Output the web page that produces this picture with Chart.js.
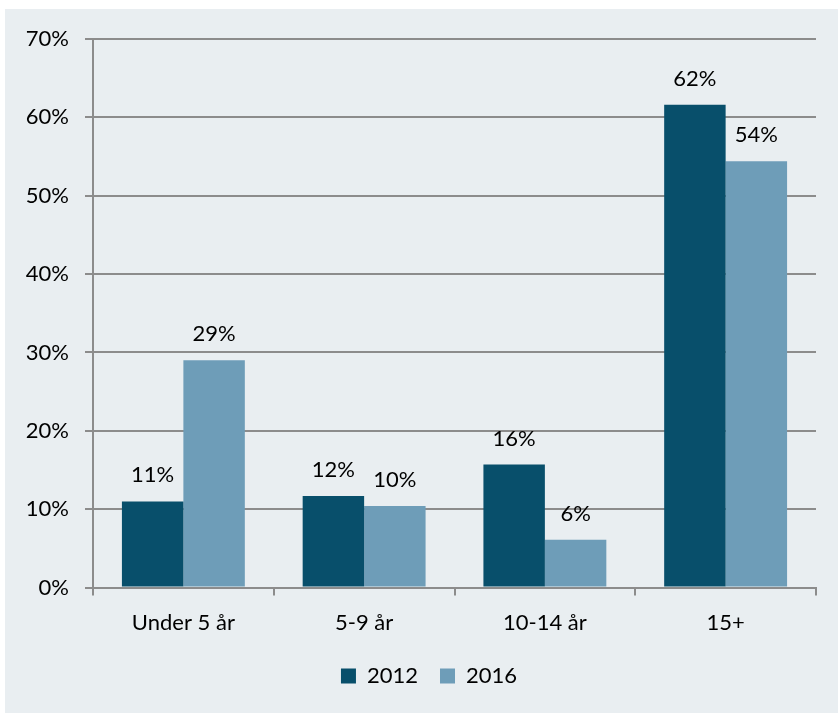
<!DOCTYPE html>
<html lang="sv">
<head>
    <meta charset="UTF-8">
    <title>Andel per ålder</title>
    <script src="https://cdn.jsdelivr.net/npm/chart.js"></script>
    <style>
        body {
            margin: 0;
            background: #ffffff;
        }
        #chartBox {
            position: absolute;
            left: 5px;
            top: 9px;
            width: 833px;
            height: 704px;
            background-color: #e9eef1;
        }
    </style>
</head>
<body>
    <div id="chartBox">
        <canvas id="ageChart" width="833" height="704"></canvas>
    </div>
    <script>
        const categories = ['Under 5 år', '5-9 år', '10-14 år', '15+'];
        const values2012 = [11.0, 11.7, 15.7, 61.6];
        const values2016 = [29.0, 10.4, 6.1, 54.4];
        const yTicks = [0, 10, 20, 30, 40, 50, 60, 70];

        const fontName = 'Lato';
        const fontSize = 22;
        const gridGray = '#8c8c8c';
        const textColor = '#000000';

        // etiketter ovanför staplarna
        const barLabels = {
            id: 'barLabels',
            afterDatasetsDraw(chart) {
                const ctx = chart.ctx;
                ctx.save();
                ctx.font = fontSize + 'px ' + fontName;
                ctx.fillStyle = textColor;
                ctx.textAlign = 'center';
                ctx.textBaseline = 'middle';
                chart.data.datasets.forEach((ds, i) => {
                    chart.getDatasetMeta(i).data.forEach((bar, j) => {
                        ctx.fillText(Math.round(ds.data[j]) + '%', bar.x, bar.y - 26);
                    });
                });
                ctx.restore();
            }
        };

        // förklaringen står lite till höger om mitten
        const legendShift = {
            id: 'legendShift',
            afterLayout(chart) {
                if (chart.legend) chart.legend.left += 37;
            }
        };

        const ctx = document.getElementById('ageChart').getContext('2d');
        const ageChart = new Chart(ctx, {
            type: 'bar',
            data: {
                labels: categories,
                datasets: [{
                    label: '2012',
                    data: values2012,
                    backgroundColor: '#084f6b',
                    categoryPercentage: 0.68,
                    barPercentage: 1.0
                },
                {
                    label: '2016',
                    data: values2016,
                    backgroundColor: '#6e9db8',
                    categoryPercentage: 0.68,
                    barPercentage: 1.0
                }]
            },
            options: {
                responsive: false,
                animation: false,
                layout: {
                    padding: { left: 0, right: 22, top: 30, bottom: 16 }
                },
                plugins: {
                    tooltip: { enabled: false },
                    legend: {
                        position: 'bottom',
                        labels: {
                            color: textColor,
                            font: { family: fontName, size: fontSize },
                            boxWidth: 15,
                            boxHeight: 15,
                            padding: 22
                        }
                    }
                },
                scales: {
                    x: {
                        offset: true,
                        afterFit(scale) { scale.height = scale.height - 7; },
                        grid: {
                            offset: true,
                            drawOnChartArea: false,
                            drawTicks: true,
                            tickLength: 8,
                            color: gridGray,
                            lineWidth: 2
                        },
                        border: { color: gridGray, width: 2 },
                        ticks: {
                            color: textColor,
                            font: { family: fontName, size: fontSize },
                            padding: 14
                        }
                    },
                    y: {
                        min: yTicks[0],
                        max: yTicks[yTicks.length - 1],
                        afterFit(scale) { scale.width = 88; },
                        afterBuildTicks(scale) {
                            scale.ticks = yTicks.map(v => ({ value: v }));
                        },
                        grid: {
                            color: gridGray,
                            lineWidth: 2,
                            tickLength: 8
                        },
                        border: { color: gridGray, width: 2 },
                        ticks: {
                            color: textColor,
                            font: { family: fontName, size: fontSize },
                            padding: 16,
                            callback: v => v + '%'
                        }
                    }
                }
            },
            plugins: [barLabels, legendShift]
        });
    </script>
</body>
</html>
